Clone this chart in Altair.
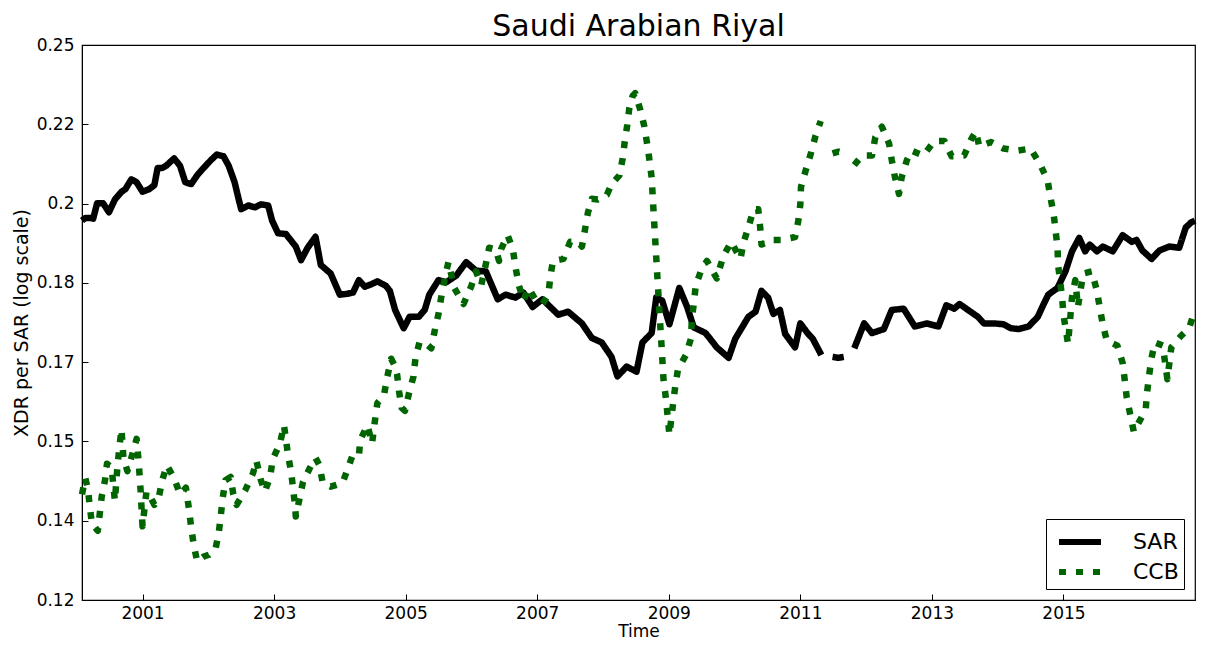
import altair as alt
import pandas as pd

# ---- data ----
sar_year = [
    2000.08, 2000.13, 2000.20, 2000.25, 2000.31, 2000.40, 2000.49, 2000.58, 2000.68, 2000.74,
    2000.83, 2000.91, 2001.00, 2001.10, 2001.18, 2001.23, 2001.30, 2001.36, 2001.48, 2001.57,
    2001.65, 2001.74, 2001.83, 2001.93, 2002.04, 2002.13, 2002.23, 2002.31, 2002.40, 2002.46,
    2002.50, 2002.61, 2002.71, 2002.80, 2002.91, 2002.97, 2003.06, 2003.18, 2003.33, 2003.41,
    2003.51, 2003.63, 2003.71, 2003.86, 2004.00, 2004.11, 2004.20, 2004.29, 2004.38, 2004.48,
    2004.57, 2004.70, 2004.76, 2004.84, 2004.97, 2005.06, 2005.20, 2005.29, 2005.36, 2005.50,
    2005.62, 2005.77, 2005.92, 2006.07, 2006.22, 2006.40, 2006.52, 2006.67, 2006.79, 2006.93,
    2007.08, 2007.32, 2007.47, 2007.68, 2007.83, 2007.98, 2008.13, 2008.22, 2008.36, 2008.51,
    2008.60, 2008.74, 2008.81, 2008.90, 2009.01, 2009.16, 2009.28, 2009.38, 2009.56, 2009.73,
    2009.91, 2010.01, 2010.21, 2010.32, 2010.41, 2010.51, 2010.59, 2010.69, 2010.77, 2010.92,
    2011.00, 2011.11, 2011.19, 2011.32, 2011.49, 2011.58, 2011.66, 2011.82, 2011.97, 2012.09,
    2012.27, 2012.39, 2012.57, 2012.74, 2012.92, 2013.10, 2013.22, 2013.34, 2013.42, 2013.55,
    2013.70, 2013.79, 2013.94, 2014.09, 2014.20, 2014.32, 2014.47, 2014.61, 2014.70, 2014.77,
    2014.91, 2015.03, 2015.13, 2015.24, 2015.33, 2015.40, 2015.51, 2015.60, 2015.75, 2015.90,
    2016.04, 2016.11, 2016.20, 2016.34, 2016.46, 2016.61, 2016.76, 2016.86, 2016.94, 2017.00,
]
sar_value = [
    0.1982, 0.1989, 0.1989, 0.1987, 0.2028, 0.2028, 0.2004, 0.2038, 0.2059, 0.2066,
    0.2093, 0.2085, 0.2059, 0.2066, 0.2077, 0.2125, 0.2125, 0.2131, 0.2152, 0.2131,
    0.2085, 0.2080, 0.2104, 0.2125, 0.2147, 0.2163, 0.2158, 0.2131, 0.2085, 0.2040,
    0.2012, 0.2022, 0.2017, 0.2025, 0.2022, 0.1982, 0.1949, 0.1947, 0.1915, 0.1881,
    0.1912, 0.1940, 0.1869, 0.1848, 0.1797, 0.1799, 0.1802, 0.1832, 0.1816, 0.1822,
    0.1829, 0.1818, 0.1806, 0.1761, 0.1719, 0.1745, 0.1745, 0.1761, 0.1797, 0.1832,
    0.1827, 0.1843, 0.1876, 0.1855, 0.1853, 0.1786, 0.1797, 0.1790, 0.1802, 0.1768,
    0.1786, 0.1750, 0.1757, 0.1730, 0.1697, 0.1687, 0.1655, 0.1613, 0.1634, 0.1623,
    0.1687, 0.1708, 0.1790, 0.1783, 0.1728, 0.1813, 0.1768, 0.1721, 0.1708, 0.1676,
    0.1653, 0.1695, 0.1745, 0.1757, 0.1806, 0.1790, 0.1752, 0.1761, 0.1706, 0.1676,
    0.1730, 0.1708, 0.1695, 0.1659, 0.1655, 0.1653, 0.1655, 0.1674, 0.1730, 0.1708,
    0.1717, 0.1761, 0.1764, 0.1723, 0.1730, 0.1723, 0.1772, 0.1764, 0.1775, 0.1761,
    0.1745, 0.1730, 0.1730, 0.1728, 0.1719, 0.1717, 0.1723, 0.1745, 0.1775, 0.1797,
    0.1813, 0.1853, 0.1903, 0.1937, 0.1903, 0.1920, 0.1903, 0.1915, 0.1903, 0.1944,
    0.1927, 0.1932, 0.1905, 0.1884, 0.1905, 0.1915, 0.1912, 0.1964, 0.1977, 0.1982,
]

ccb_year = [
    2000.08, 2000.13, 2000.17, 2000.20, 2000.23, 2000.32, 2000.35, 2000.38, 2000.43, 2000.46,
    2000.53, 2000.58, 2000.62, 2000.65, 2000.68, 2000.71, 2000.77, 2000.85, 2000.91, 2000.94,
    2000.97, 2001.00, 2001.03, 2001.06, 2001.10, 2001.18, 2001.25, 2001.30, 2001.37, 2001.48,
    2001.57, 2001.66, 2001.71, 2001.74, 2001.78, 2001.83, 2001.93, 2002.01, 2002.11, 2002.16,
    2002.19, 2002.22, 2002.26, 2002.34, 2002.38, 2002.43, 2002.56, 2002.68, 2002.73, 2002.80,
    2002.86, 2002.94, 2002.98, 2003.09, 2003.15, 2003.18, 2003.21, 2003.26, 2003.29, 2003.32,
    2003.33, 2003.39, 2003.44, 2003.54, 2003.63, 2003.69, 2003.74, 2003.86, 2004.04, 2004.11,
    2004.19, 2004.29, 2004.31, 2004.42, 2004.49, 2004.52, 2004.57, 2004.67, 2004.72, 2004.78,
    2004.84, 2004.87, 2004.90, 2004.94, 2004.99, 2005.05, 2005.12, 2005.15, 2005.21, 2005.29,
    2005.39, 2005.44, 2005.50, 2005.54, 2005.59, 2005.65, 2005.74, 2005.88, 2006.00, 2006.07,
    2006.15, 2006.22, 2006.27, 2006.37, 2006.42, 2006.45, 2006.55, 2006.63, 2006.67, 2006.72,
    2006.79, 2006.87, 2006.97, 2007.08, 2007.17, 2007.20, 2007.24, 2007.40, 2007.50, 2007.62,
    2007.68, 2007.73, 2007.77, 2007.83, 2007.92, 2008.06, 2008.13, 2008.25, 2008.30, 2008.33,
    2008.37, 2008.40, 2008.45, 2008.49, 2008.57, 2008.63, 2008.69, 2008.74, 2008.77, 2008.80,
    2008.83, 2008.86, 2008.89, 2008.92, 2008.96, 2009.01, 2009.07, 2009.10, 2009.14, 2009.26,
    2009.34, 2009.35, 2009.38, 2009.41, 2009.49, 2009.58, 2009.73, 2009.76, 2009.83, 2009.95,
    2010.01, 2010.09, 2010.14, 2010.21, 2010.29, 2010.36, 2010.39, 2010.41, 2010.56, 2010.71,
    2010.92, 2010.97, 2011.00, 2011.01, 2011.08, 2011.16, 2011.23, 2011.31, 2011.49, 2011.58,
    2011.66, 2011.82, 2011.94, 2012.09, 2012.14, 2012.24, 2012.35, 2012.39, 2012.44, 2012.50,
    2012.54, 2012.62, 2012.69, 2012.87, 2013.04, 2013.19, 2013.30, 2013.49, 2013.60, 2013.67,
    2013.72, 2013.90, 2014.09, 2014.30, 2014.50, 2014.65, 2014.76, 2014.80, 2014.85, 2014.88,
    2014.91, 2014.92, 2014.95, 2014.98, 2015.00, 2015.04, 2015.07, 2015.13, 2015.18, 2015.22,
    2015.30, 2015.43, 2015.51, 2015.55, 2015.60, 2015.66, 2015.82, 2015.90, 2015.93, 2015.96,
    2016.01, 2016.07, 2016.13, 2016.25, 2016.27, 2016.30, 2016.34, 2016.39, 2016.51, 2016.58,
    2016.64, 2016.79, 2016.91, 2017.00,
]
ccb_value = [
    0.1380, 0.1410, 0.1389, 0.1357, 0.1328, 0.1315, 0.1345, 0.1376, 0.1406, 0.1437,
    0.1430, 0.1368, 0.1434, 0.1470, 0.1504, 0.1448, 0.1423, 0.1457, 0.1485, 0.1443,
    0.1389, 0.1323, 0.1354, 0.1385, 0.1380, 0.1361, 0.1376, 0.1406, 0.1434, 0.1410,
    0.1380, 0.1392, 0.1350, 0.1320, 0.1290, 0.1263, 0.1271, 0.1274, 0.1284, 0.1312,
    0.1342, 0.1374, 0.1406, 0.1412, 0.1380, 0.1361, 0.1387, 0.1419, 0.1443, 0.1406,
    0.1385, 0.1412, 0.1446, 0.1476, 0.1512, 0.1485, 0.1455, 0.1421, 0.1389, 0.1359,
    0.1340, 0.1374, 0.1403, 0.1428, 0.1448, 0.1434, 0.1401, 0.1394, 0.1401, 0.1424,
    0.1452, 0.1452, 0.1483, 0.1512, 0.1476, 0.1508, 0.1557, 0.1573, 0.1611, 0.1651,
    0.1634, 0.1617, 0.1581, 0.1547, 0.1541, 0.1577, 0.1613, 0.1653, 0.1687, 0.1687,
    0.1674, 0.1712, 0.1752, 0.1790, 0.1832, 0.1876, 0.1813, 0.1775, 0.1818, 0.1853,
    0.1820, 0.1872, 0.1912, 0.1908, 0.1879, 0.1908, 0.1944, 0.1908, 0.1864, 0.1820,
    0.1783, 0.1813, 0.1786, 0.1775, 0.1797, 0.1841, 0.1879, 0.1884, 0.1927, 0.1927,
    0.1915, 0.1962, 0.2002, 0.2040, 0.2038, 0.2051, 0.2080, 0.2104, 0.2152, 0.2199,
    0.2250, 0.2299, 0.2337, 0.2346, 0.2293, 0.2244, 0.2171, 0.2098, 0.2002, 0.1915,
    0.1832, 0.1752, 0.1680, 0.1607, 0.1563, 0.1493, 0.1561, 0.1593, 0.1628, 0.1659,
    0.1697, 0.1739, 0.1775, 0.1818, 0.1855, 0.1879, 0.1836, 0.1853, 0.1891, 0.1927,
    0.1908, 0.1884, 0.1927, 0.1964, 0.2012, 0.2012, 0.1964, 0.1920, 0.1932, 0.1932,
    0.1939, 0.1982, 0.2025, 0.2072, 0.2117, 0.2166, 0.2216, 0.2261, 0.2166, 0.2171,
    0.2166, 0.2133, 0.2160, 0.2160, 0.2213, 0.2244, 0.2194, 0.2147, 0.2098, 0.2053,
    0.2098, 0.2147, 0.2174, 0.2160, 0.2202, 0.2202, 0.2158, 0.2160, 0.2208, 0.2230,
    0.2186, 0.2199, 0.2180, 0.2174, 0.2180, 0.2133, 0.2090, 0.2046, 0.2000, 0.1957,
    0.1912, 0.1867, 0.1829, 0.1790, 0.1750, 0.1712, 0.1684, 0.1790, 0.1832, 0.1768,
    0.1848, 0.1853, 0.1806, 0.1768, 0.1726, 0.1691, 0.1680, 0.1642, 0.1607, 0.1571,
    0.1537, 0.1499, 0.1514, 0.1543, 0.1577, 0.1613, 0.1653, 0.1687, 0.1680, 0.1607,
    0.1676, 0.1702, 0.1719, 0.1761,
]

# months with no observation (break in both lines)
missing_months = [2011.41, 2011.74]

series_names = ["SAR", "CCB"]
series_colors = ["#000000", "#006400"]

x_tick_values = [2001, 2003, 2005, 2007, 2009, 2011, 2013, 2015]
y_tick_values = [0.12, 0.133266, 0.148, 0.164361, 0.182531, 0.20271, 0.22512, 0.25]
y_tick_labels = ["0.12", "0.14", "0.15", "0.17", "0.18", "0.2", "0.22", "0.25"]


def frame(name, years, values):
    segs = [sum(1 for m in missing_months if y > m) for y in years]
    return pd.DataFrame({
        "year": years,
        "value": values,
        "series": name,
        "seg": [f"{name}-{s}" for s in segs],
    })


df = pd.concat([frame("SAR", sar_year, sar_value),
                frame("CCB", ccb_year, ccb_value)], ignore_index=True)

label_expr = " : ".join(
    f"abs(datum.value - {v}) < 0.0005 ? '{l}'" for v, l in zip(y_tick_values, y_tick_labels)
) + " : ''"

FONT = "DejaVu Sans"

x_scale = alt.Scale(domain=[2000.08, 2017.0], nice=False, zero=False)
y_scale = alt.Scale(type="log", domain=[0.12, 0.25], nice=False)

x_axis_main = alt.Axis(
    orient="bottom", values=x_tick_values, format="d", ticks=False, tickSize=0,
    grid=False, domain=True, domainColor="black", labelFlush=False, labelOverlap=False,
    labelFontSize=17, labelColor="black", labelPadding=5, labelFont=FONT,
    title="Time", titleFontSize=17, titleFontWeight="normal", titleColor="black",
    titlePadding=2, titleFont=FONT,
)
y_axis_main = alt.Axis(
    orient="left", values=y_tick_values, labelExpr=label_expr, ticks=False, tickSize=0,
    grid=False, domain=True, domainColor="black", labelFlush=False, labelOverlap=False,
    labelFontSize=17, labelColor="black", labelPadding=8, labelFont=FONT,
    title="XDR per SAR (log scale)", titleFontSize=19, titleFontWeight="normal",
    titleColor="black", titlePadding=5, titleFont=FONT,
)
# inward-pointing tick marks (ticks-only axes shifted into the plot)
x_axis_ticks = alt.Axis(
    orient="bottom", values=x_tick_values, offset=-6, ticks=True, tickSize=6,
    tickColor="black", tickWidth=1, labels=False, domain=False, grid=False, title=None,
)
y_axis_ticks = alt.Axis(
    orient="left", values=y_tick_values, offset=-6, ticks=True, tickSize=6,
    tickColor="black", tickWidth=1, labels=False, domain=False, grid=False, title=None,
)

legend = alt.Legend(title=None, symbolType="M-1.4,0H1.4")

lines = alt.Chart(df).mark_line(strokeWidth=6.5, strokeJoin="round").encode(
    x=alt.X("year:Q", scale=x_scale, axis=x_axis_main),
    y=alt.Y("value:Q", scale=y_scale, axis=y_axis_main),
    color=alt.Color("series:N", scale=alt.Scale(domain=series_names, range=series_colors),
                    legend=legend),
    strokeDash=alt.StrokeDash("series:N",
                              scale=alt.Scale(domain=series_names, range=[[1, 0], [7, 10]]),
                              legend=legend),
    detail="seg:N",
)

tick_layer = alt.Chart(df).mark_line(opacity=0).encode(
    x=alt.X("year:Q", scale=x_scale, axis=x_axis_ticks),
    y=alt.Y("value:Q", scale=y_scale, axis=y_axis_ticks),
    detail="seg:N",
)

chart = (
    alt.layer(lines, tick_layer)
    .resolve_axis(x="independent", y="independent")
    .properties(
        width=1113,
        height=555,
        padding={"left": 4, "top": 4, "right": 0, "bottom": 0},
        title=alt.TitleParams(
            text="Saudi Arabian Riyal", fontSize=30, fontWeight="normal", font=FONT,
            color="black", anchor="middle", offset=-6, frame="group",
        ),
    )
    .configure(font=FONT)
    .configure_view(stroke="black", strokeWidth=1.2)
    .configure_legend(
        orient="bottom-right", offset=11, strokeColor="black", fillColor="white",
        padding=5, labelFontSize=22, labelColor="black", labelFont=FONT,
        symbolSize=900, symbolStrokeWidth=6, symbolOffset=11, labelOffset=35,
        rowPadding=0,
    )
)

chart.save("out.html", embed_options={"renderer": "svg", "actions": False})
